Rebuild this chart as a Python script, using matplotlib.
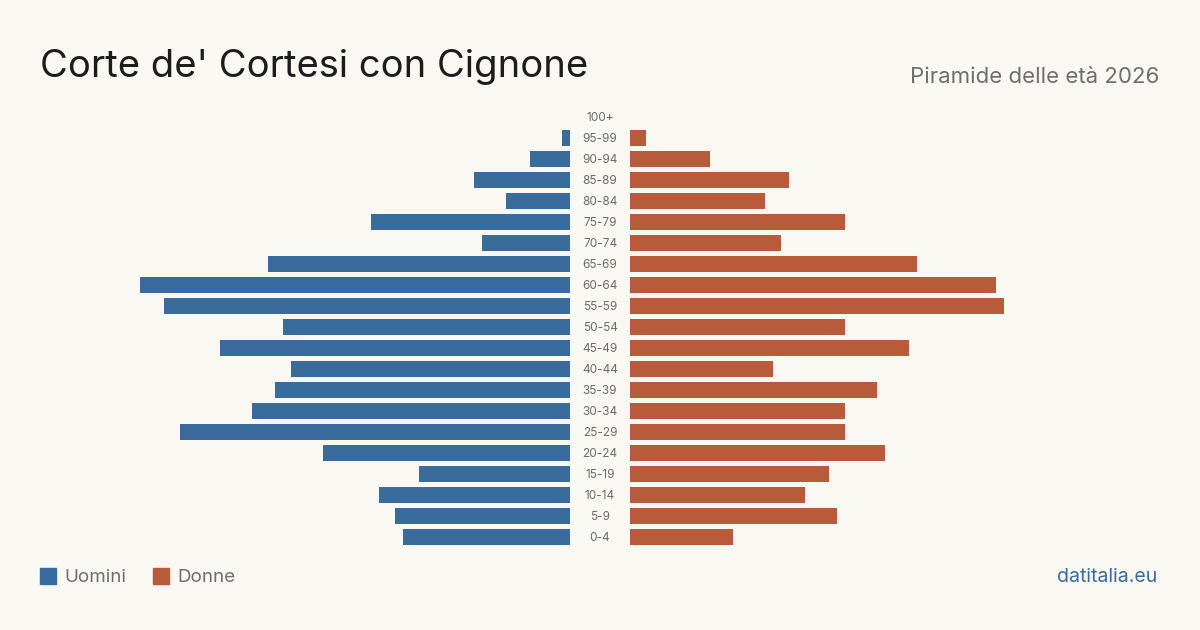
import numpy as np
import matplotlib.pyplot as plt
from matplotlib.patches import Rectangle

plt.rcParams['font.family'] = ['Inter', 'DejaVu Sans']

# classi di età dal basso verso l'alto
classi = ['0-4', '5-9', '10-14', '15-19', '20-24', '25-29', '30-34', '35-39',
          '40-44', '45-49', '50-54', '55-59', '60-64', '65-69', '70-74',
          '75-79', '80-84', '85-89', '90-94', '95-99', '100+']
uomini = [21, 22, 24, 19, 31, 49, 40, 37, 35, 44, 36, 51, 54, 38, 11,
          25, 8, 12, 5, 1, 0]
donne = [13, 26, 22, 25, 32, 27, 27, 31, 18, 35, 27, 47, 46, 36, 19,
         27, 17, 20, 10, 2, 0]

BG = '#f9f8f3'
BLU = '#3a6b9d'
ARANCIO = '#b85b3b'
W, H = 1200, 630

fig = plt.figure(figsize=(12, 6.3), dpi=100, facecolor=BG)

y = np.arange(len(classi))
bottom = (H - 547.5) / H
height = 441 / H

ax_m = fig.add_axes([90 / W, bottom, 480 / W, height])
ax_f = fig.add_axes([630 / W, bottom, 480 / W, height])

ax_m.barh(y, uomini, height=0.8, color=BLU)
ax_f.barh(y, donne, height=0.8, color=ARANCIO)

# circa 7.96 px per persona
ax_m.set_xlim(60.3, 0)
ax_f.set_xlim(0, 60.3)
for ax in (ax_m, ax_f):
    ax.set_ylim(-0.5, len(classi) - 0.5)
    ax.axis('off')

# etichette centrali
for i, c in enumerate(classi):
    yp = 538 - 21 * i
    fig.text(600 / W, 1 - yp / H, c, ha='center', va='center',
             fontsize=8.5, color='#6b6b6b')

fig.text(40 / W, 1 - 67 / H, "Corte de' Cortesi con Cignone", ha='left',
         va='center', fontsize=27.5, color='#1c1c1c')
fig.text(1159 / W, 1 - 77 / H, 'Piramide delle età 2026', ha='right',
         va='center', fontsize=16, color='#6e6e6e')

# legenda
fig.patches.append(Rectangle((40 / W, 1 - 584 / H), 16 / W, 16 / H,
                             transform=fig.transFigure, color=BLU))
fig.text(64 / W, 1 - 577.5 / H, 'Uomini', ha='left', va='center',
         fontsize=13.5, color='#6e6e6e')
fig.patches.append(Rectangle((153 / W, 1 - 584 / H), 16 / W, 16 / H,
                             transform=fig.transFigure, color=ARANCIO))
fig.text(177 / W, 1 - 577.5 / H, 'Donne', ha='left', va='center',
         fontsize=13.5, color='#6e6e6e')

fig.text(1157 / W, 1 - 577.5 / H, 'datitalia.eu', ha='right', va='center',
         fontsize=14, color='#3a6b9d')

fig.savefig('out.png', dpi=100, facecolor=BG)
